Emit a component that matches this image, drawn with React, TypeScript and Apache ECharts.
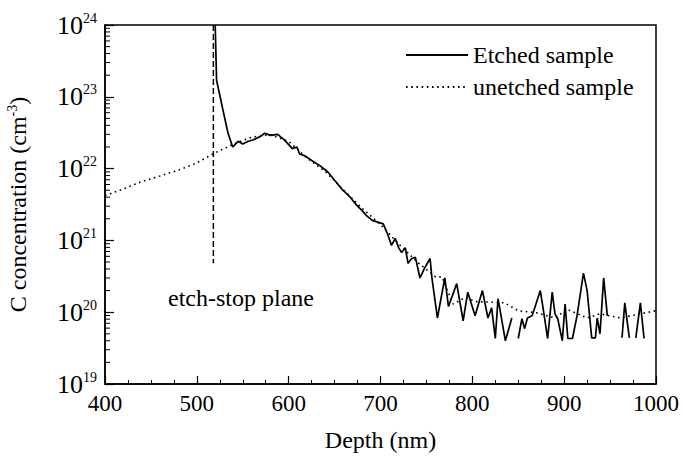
import React, { useEffect, useRef } from "react";
import * as echarts from "echarts";

// Etched sample: depth (nm) and C concentration (cm^-3); null marks a break in the trace
const etchedDepth = [
  520, 521.5, 528.5, 534, 539, 545, 550, 556, 561, 569, 574, 580, 588, 594, 598, 604, 609, 612, 618, 625,
  634, 643, 650, 659, 667, 674, 680, 685, 691, 697, 703, 708, 712, 716, 720, 723, 727, 730, 734, 738,
  743, 748, 754, 756, 762, 770, 774, 783, 790, 795, 803, 811, 817, 821, 825, 828, 836, 843, 846, 850,
  854, 857, 860, 865, 868, 874, 877, 882, 887, 890, 893, 898, 901, 904, 909, 914, 921, 925, 930, 934,
  936, 939, 943, 947, 955, 963, 966, 971, 975, 978, 983, 987,
];
const etchedConc: (number | null)[] = [
  1e24, 1.7e23, 6.5e22, 3.1e22, 2.0e22, 2.4e22, 2.2e22, 2.4e22, 2.5e22, 2.8e22, 3.1e22, 2.9e22, 3.0e22, 2.6e22, 2.3e22, 1.9e22, 2.0e22, 1.6e22, 1.5e22, 1.3e22,
  1.1e22, 8.9e21, 6.9e21, 5.0e21, 4.0e21, 3.1e21, 2.6e21, 2.2e21, 1.9e21, 1.8e21, 1.7e21, 1.2e21, 8.5e20, 1.07e21, 7.8e20, 6.8e20, 7.9e20, 4.8e20, 5.6e20, 5.8e20,
  3.0e20, 4.1e20, 5.6e20, 3.0e20, 8.3e19, 3.0e20, 1.2e20, 2.5e20, 7.6e19, 1.9e20, 8.9e19, 2.0e20, 8.3e19, 1.15e20, 4.3e19, 1.55e20, 4.0e19, 8.3e19, null, 4.3e19,
  8.1e19, 5.9e19, 8.3e19, 8.9e19, 1.15e20, 2.0e20, 1.15e20, 4.3e19, 1.9e20, 9.5e19, 8.1e19, 4.0e19, 1.3e20, 4.3e19, 4.3e19, 8.9e19, 3.5e20, 2.0e20, 4.4e19, 4.4e19,
  8.3e19, 5.0e19, 3.0e20, 8.9e19, null, 4.4e19, 1.35e20, 4.4e19, null, 4.4e19, 1.35e20, 4.3e19,
];

// Unetched sample
const unetchedDepth = [
  400, 420, 440, 460, 480, 500, 520, 540, 560, 580, 600, 620, 640, 660, 680, 700, 720, 740, 760, 767,
  779, 792, 805, 820, 835, 850, 870, 890, 903, 925, 939, 961, 983, 1000,
];
const unetchedConc = [
  4.2e21, 5.2e21, 6.6e21, 7.9e21, 9.5e21, 1.2e22, 1.66e22, 2.2e22, 2.75e22, 2.95e22, 2.4e22, 1.4e22, 9.1e21, 5.0e21, 2.8e21, 1.66e21, 8.9e20, 5.0e20, 3.1e20, 3.1e20,
  1.3e20, 1.6e20, 1.4e20, 1.38e20, 1.35e20, 1.05e20, 9.8e19, 8.3e19, 1.1e20, 8.3e19, 9.5e19, 8.3e19, 9.5e19, 1.05e20,
];

// Etch-stop plane marker
const etchStopDepth = [518, 518];
const etchStopConc = [1e24, 4.8e20];

// Axis ranges and labels
const xTicks = [400, 500, 600, 700, 800, 900, 1000];
const yDecades = [19, 20, 21, 22, 23, 24];
const minorMantissas = [2, 3, 4, 5, 6, 7, 8, 9];

const FONT = "'Liberation Serif', 'Times New Roman', serif";

export default function App() {
  const ref = useRef<HTMLDivElement>(null);

  useEffect(() => {
    document.body.style.margin = "0";
    if (!ref.current) return;
    const chart = echarts.init(ref.current, undefined, { renderer: "svg" });

    const minorValues: number[][] = [];
    for (let d = yDecades[0]; d < yDecades[yDecades.length - 1]; d++) {
      for (const m of minorMantissas) minorValues.push([m * Math.pow(10, d)]);
    }

    chart.setOption({
      animation: false,
      backgroundColor: "#ffffff",
      textStyle: { fontFamily: FONT, color: "#000" },
      grid: {
        left: 105,
        right: 27,
        top: 25,
        bottom: 73,
        show: true,
        borderColor: "#000",
        borderWidth: 1.5,
        containLabel: false,
        outerBoundsMode: "none",
      },
      legend: {
        left: 400,
        top: 38,
        orient: "vertical",
        itemWidth: 62,
        itemHeight: 10,
        itemGap: 8,
        itemStyle: { opacity: 0 },
        textStyle: { fontFamily: FONT, fontSize: 24, color: "#000" },
        data: ["Etched sample", "unetched sample"],
      },
      xAxis: {
        type: "value",
        min: xTicks[0],
        max: xTicks[xTicks.length - 1],
        interval: 100,
        name: "Depth (nm)",
        nameLocation: "middle",
        nameGap: 44,
        nameTextStyle: { fontFamily: FONT, fontSize: 24, color: "#000" },
        axisLine: { lineStyle: { color: "#000", width: 1.5 } },
        axisTick: { inside: true, length: 8, lineStyle: { color: "#000", width: 1.2 } },
        minorTick: { show: true, splitNumber: 4, length: 4, lineStyle: { color: "#000", width: 1 } },
        splitLine: { show: false },
        axisLabel: {
          fontFamily: FONT,
          fontSize: 23,
          color: "#000",
          margin: 8,
          formatter: (v: number) => String(v),
        },
      },
      yAxis: {
        type: "log",
        logBase: 10,
        min: Math.pow(10, yDecades[0]),
        max: Math.pow(10, yDecades[yDecades.length - 1]),
        name: "{n|C concentration (cm}{s|-3}{n|)}",
        nameLocation: "middle",
        nameRotate: 90,
        nameGap: 74,
        nameTextStyle: {
          fontFamily: FONT,
          color: "#000",
          rich: {
            n: { fontFamily: FONT, fontSize: 24, color: "#000" },
            s: { fontFamily: FONT, fontSize: 14, color: "#000", padding: [0, 0, 12, 0] },
          },
        },
        axisLine: { lineStyle: { color: "#000", width: 1.5 } },
        axisTick: { inside: true, length: 9, lineStyle: { color: "#000", width: 1.2 } },
        splitLine: { show: false },
        axisLabel: {
          margin: 8,
          formatter: (v: number) => `{b|10}{s|${Math.round(Math.log10(v))}}`,
          rich: {
            b: { fontFamily: FONT, fontSize: 26, color: "#000" },
            s: { fontFamily: FONT, fontSize: 14, color: "#000", padding: [0, 0, 14, 0] },
          },
        },
      },
      series: [
        {
          name: "Etched sample",
          type: "line",
          data: etchedDepth.map((d, i) => [d, etchedConc[i]]),
          symbol: "none",
          connectNulls: false,
          lineStyle: { color: "#000", width: 1.7, type: "solid" },
          itemStyle: { color: "#000" },
          z: 4,
        },
        {
          name: "unetched sample",
          type: "line",
          data: unetchedDepth.map((d, i) => [d, unetchedConc[i]]),
          symbol: "none",
          lineStyle: { color: "#000", width: 1.6, type: [1.6, 3.6] },
          itemStyle: { color: "#000" },
          z: 3,
        },
        {
          name: "etch-stop",
          type: "line",
          data: etchStopDepth.map((d, i) => [d, etchStopConc[i]]),
          symbol: "none",
          lineStyle: { color: "#000", width: 1.5, type: [6, 3] },
          z: 3,
        },
        {
          // minor ticks of the logarithmic axis at 2..9 × 10^n
          name: "minor",
          type: "custom",
          data: minorValues,
          silent: true,
          clip: false,
          encode: { y: 0 },
          renderItem: (_p: any, api: any) => {
            const pt = api.coord([xTicks[0], api.value(0)]);
            return {
              type: "line",
              shape: { x1: pt[0], y1: pt[1], x2: pt[0] + 5, y2: pt[1] },
              style: { stroke: "#000", lineWidth: 1 },
            };
          },
          z: 5,
        },
      ],
      graphic: [
        {
          type: "text",
          left: 168,
          top: 286,
          style: { text: "etch-stop plane", font: `24px ${FONT}`, fill: "#000" },
        },
      ],
    });

    return () => chart.dispose();
  }, []);

  return <div ref={ref} style={{ width: 683, height: 457 }} />;
}
